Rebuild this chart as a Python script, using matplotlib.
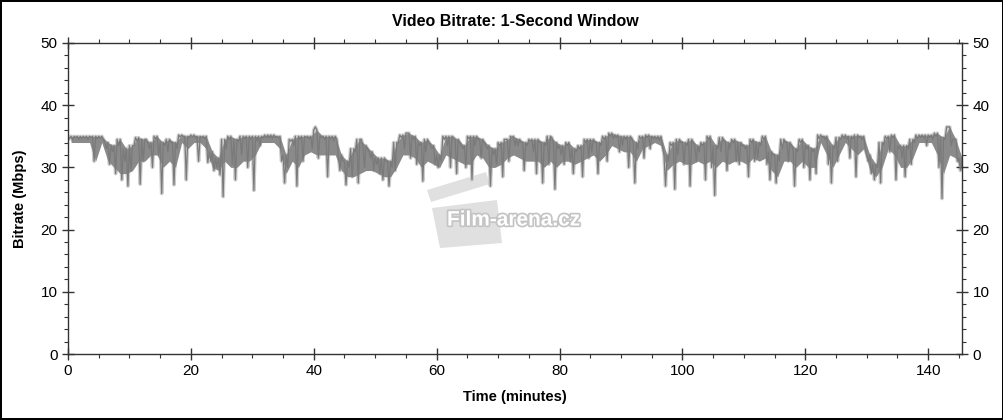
import matplotlib
matplotlib.use("Agg")
import matplotlib.pyplot as plt
from matplotlib.ticker import MultipleLocator
from matplotlib.patches import Polygon
import matplotlib.patheffects as pe

plt.rcParams['font.family'] = ['Liberation Sans', 'DejaVu Sans']

title = "Video Bitrate: 1-Second Window"
x_label = "Time (minutes)"
y_label = "Bitrate (Mbps)"
step_minutes = 0.5

# low readings of the bitrate trace (Mbps), two per minute
bitrate_low = [
    34.6, 34.4, 34.8, 34.5, 34.6, 34.7, 34.5, 34.8, 31.0, 34.6,
    34.7, 34.5, 33.0, 30.5, 32.5, 29.0, 33.5, 28.0, 31.0, 27.0,
    29.5, 33.5, 34.2, 27.3, 31.0, 34.5, 33.0, 30.0, 34.6, 32.0,
    25.8, 33.5, 32.5, 34.0, 27.2, 33.0, 34.9, 35.0, 28.0, 34.8,
    34.9, 34.7, 31.0, 34.8, 34.6, 30.8, 31.0, 29.5, 30.0, 28.8,
    25.3, 33.0, 34.5, 30.5, 28.0, 34.2, 32.0, 34.6, 30.0, 34.5,
    26.3, 34.3, 33.5, 34.7, 34.8, 34.7, 34.6, 34.8, 34.7, 31.0,
    27.5, 30.0, 34.2, 33.5, 27.0, 34.5, 31.0, 34.8, 34.6, 33.0,
    36.5, 31.5, 34.8, 34.5, 28.5, 34.6, 34.2, 34.5, 29.5, 31.0,
    27.2, 30.0, 28.5, 32.5, 27.5, 34.5, 30.0, 33.0, 31.5, 29.5,
    30.5, 29.0, 28.0, 31.0, 27.0, 30.0, 29.5, 34.0, 34.8, 33.0,
    35.5, 31.5, 34.5, 30.5, 33.5, 27.8, 32.5, 34.0, 33.0, 30.5,
    30.0, 31.0, 34.5, 33.5, 30.0, 34.8, 29.0, 34.0, 33.0, 30.0,
    34.6, 28.0, 33.5, 34.5, 31.5, 34.0, 33.0, 27.0, 32.0, 30.5,
    33.5, 28.5, 34.5, 31.0, 34.8, 33.5, 33.5, 34.0, 29.5, 33.5,
    34.2, 32.5, 29.0, 34.0, 27.5, 33.5, 30.5, 34.8, 26.5, 33.0,
    32.0, 30.5, 33.5, 31.0, 29.0, 32.5, 33.0, 28.5, 34.0, 31.5,
    32.5, 34.0, 29.0, 33.5, 34.5, 31.0, 35.0, 34.6, 34.8, 32.5,
    33.5, 34.5, 30.0, 34.7, 27.5, 33.0, 34.6, 31.5, 34.8, 33.0,
    34.6, 34.5, 34.3, 33.5, 27.0, 31.0, 33.5, 26.5, 32.0, 34.0,
    30.5, 33.5, 27.0, 34.0, 31.0, 32.5, 33.5, 28.0, 34.5, 30.0,
    25.5, 33.0, 32.5, 34.3, 29.5, 33.0, 34.0, 31.0, 30.5, 33.5,
    33.0, 28.5, 34.0, 31.0, 31.5, 33.5, 34.5, 30.5, 28.0, 32.0,
    27.5, 31.0, 33.0, 34.0, 31.0, 33.5, 27.0, 32.5, 34.0, 30.0,
    33.0, 28.0, 32.5, 29.0, 34.6, 34.8, 34.5, 30.5, 27.5, 33.0,
    31.0, 34.5, 34.7, 34.5, 31.5, 34.6, 28.5, 34.8, 34.5, 33.0,
    31.0, 29.0, 28.0, 30.0, 27.5, 33.5, 34.6, 32.5, 34.8, 28.0,
    33.0, 31.5, 28.5, 33.0, 30.5, 34.0, 34.6, 34.8, 34.7, 33.5,
    34.8, 34.5, 35.0, 30.0, 25.0, 34.5, 36.5, 33.5, 34.5, 31.0,
    29.5, 30.5,
]

# top of the dense band (Mbps), one per minute
bitrate_high = [
    35.0, 35.0, 35.0, 35.0, 35.0, 35.0, 34.0, 33.5, 34.5, 33.0,
    33.5, 34.8, 34.5, 34.0, 35.0, 34.0, 34.5, 34.0, 35.2, 35.0,
    35.2, 35.0, 35.0, 32.5, 31.5, 34.5, 35.0, 34.5, 35.0, 35.0,
    35.0, 35.0, 35.2, 35.2, 35.0, 32.0, 34.5, 35.0, 35.0, 35.0,
    36.0, 35.0, 35.0, 35.0, 32.0, 31.0, 33.0, 34.5, 33.5, 32.5,
    31.5, 31.5, 31.0, 34.0, 35.2, 35.5, 35.0, 34.0, 34.5, 33.5,
    32.0, 35.0, 35.0, 34.5, 33.5, 35.0, 35.0, 34.5, 33.5, 33.0,
    34.0, 34.5, 35.0, 34.5, 34.0, 34.5, 34.5, 34.0, 35.0, 34.0,
    33.5, 34.0, 33.0, 33.5, 34.5, 34.5, 34.0, 35.0, 35.5, 35.2,
    35.0, 35.0, 34.0, 35.0, 35.2, 35.0, 35.0, 32.0, 34.0, 34.5,
    34.0, 34.5, 33.5, 34.0, 35.0, 33.5, 34.8, 34.0, 34.5, 34.0,
    33.5, 34.5, 34.0, 35.0, 32.5, 32.0, 34.5, 34.0, 33.0, 34.5,
    33.5, 33.0, 35.2, 35.0, 33.5, 34.8, 35.2, 35.0, 35.2, 35.0,
    32.0, 30.5, 34.0, 35.0, 35.2, 33.5, 33.5, 34.5, 35.2, 35.2,
    35.2, 35.5, 34.8, 36.5, 34.5, 31.5,
]

# lower edge of the dense dark mass (Mbps), one per minute
band_bottom = [
    34.0, 34.0, 34.0, 34.0, 31.0, 34.0, 31.0, 30.0, 29.0, 29.0,
    29.5, 31.0, 31.0, 32.0, 32.0, 30.0, 31.0, 30.0, 34.0, 33.0,
    34.0, 34.0, 33.0, 30.0, 29.5, 31.0, 30.0, 30.0, 31.0, 31.0,
    32.0, 34.0, 34.0, 34.0, 33.0, 29.0, 31.0, 30.0, 32.0, 32.5,
    32.0, 32.0, 32.0, 32.0, 29.5, 28.5, 28.5, 29.0, 29.5, 29.5,
    29.0, 28.5, 28.5, 30.0, 32.0, 32.0, 31.5, 30.0, 31.0, 30.5,
    30.0, 32.0, 31.5, 31.0, 30.5, 30.5, 32.0, 31.5, 30.0, 30.0,
    30.5, 31.5, 32.0, 31.5, 31.0, 31.0, 31.0, 30.0, 31.0, 30.0,
    31.0, 31.0, 30.5, 31.0, 31.5, 32.0, 31.0, 32.0, 33.5, 33.0,
    32.5, 32.5, 31.0, 33.0, 33.5, 34.0, 33.5, 29.5, 30.5, 31.0,
    30.5, 30.5, 31.0, 30.5, 31.0, 30.0, 31.0, 30.5, 31.0, 31.0,
    30.5, 31.5, 31.0, 31.5, 29.5, 28.5, 31.0, 31.0, 30.0, 31.0,
    30.0, 30.0, 34.0, 32.0, 30.0, 32.0, 34.0, 33.0, 32.0, 33.0,
    29.5, 28.5, 30.0, 33.0, 32.0, 30.0, 30.0, 31.5, 34.0, 34.0,
    34.0, 32.0, 29.0, 32.0, 31.5, 29.5,
]

# trace alternates between band top and the low readings
time, bitrate = [], []
for i, low in enumerate(bitrate_low):
    t0 = i * step_minutes
    time += [t0, t0 + step_minutes / 2]
    bitrate += [bitrate_high[i // 2], low]
t_minute = [m + 0.5 for m in range(len(bitrate_high))]

fig = plt.figure(figsize=(10.04, 4.2), dpi=100, linewidth=1.5, edgecolor='black')
ax = fig.add_axes([68/1004, 1 - 354/420, (962-68)/1004, (354-43)/420])

# watermark (clapperboard + text)
board = Polygon([(432/1004, 1-208/420), (497/1004, 1-200/420), (502/1004, 1-243/420),
                 (440/1004, 1-248/420)], closed=True, transform=fig.transFigure,
                facecolor='#e0e0e0', edgecolor='none', zorder=0)
clap = Polygon([(427/1004, 1-190/420), (486/1004, 1-172/420), (490/1004, 1-184/420),
                (431/1004, 1-202/420)], closed=True, transform=fig.transFigure,
               facecolor='#e0e0e0', edgecolor='none', zorder=0)
ax.add_patch(board)
ax.add_patch(clap)

ax.plot(time, bitrate, color='#cccccc', lw=2.6, zorder=1)
ax.fill_between(t_minute, band_bottom, bitrate_high, color='#8a8a8a', lw=0, zorder=1.5)
ax.plot(time, bitrate, color='#7a7a7a', lw=0.9, zorder=2)

ax.set_xlim(0, 145.5)
ax.set_ylim(0, 50)
ax.xaxis.set_major_locator(MultipleLocator(20))
ax.xaxis.set_minor_locator(MultipleLocator(5))
ax.yaxis.set_major_locator(MultipleLocator(10))
ax.yaxis.set_minor_locator(MultipleLocator(2))
ax.tick_params(which='major', direction='inout', length=9, width=1, color='#333333',
               labelsize=11, top=True, right=True, labelright=True, pad=3)
ax.tick_params(which='minor', direction='out', length=3, width=0.8, color='#333333',
               top=True, right=True)
for s in ax.spines.values():
    s.set_color('#333333')
    s.set_linewidth(1)

ax.set_title(title, fontsize=11.5, fontweight='bold', pad=12)
ax.set_xlabel(x_label, fontsize=10.5, fontweight='bold', labelpad=8)
ax.set_ylabel(y_label, fontsize=10.5, fontweight='bold', labelpad=10)

ax.text((447-68)/894, (354-220)/311, "Film-arena.cz", transform=ax.transAxes, fontsize=15,
        fontweight='bold', color='white', ha='left', va='center',
        path_effects=[pe.withStroke(linewidth=2.5, foreground='#c4c4c4')], zorder=3)

fig.savefig("out.png", dpi=100)
